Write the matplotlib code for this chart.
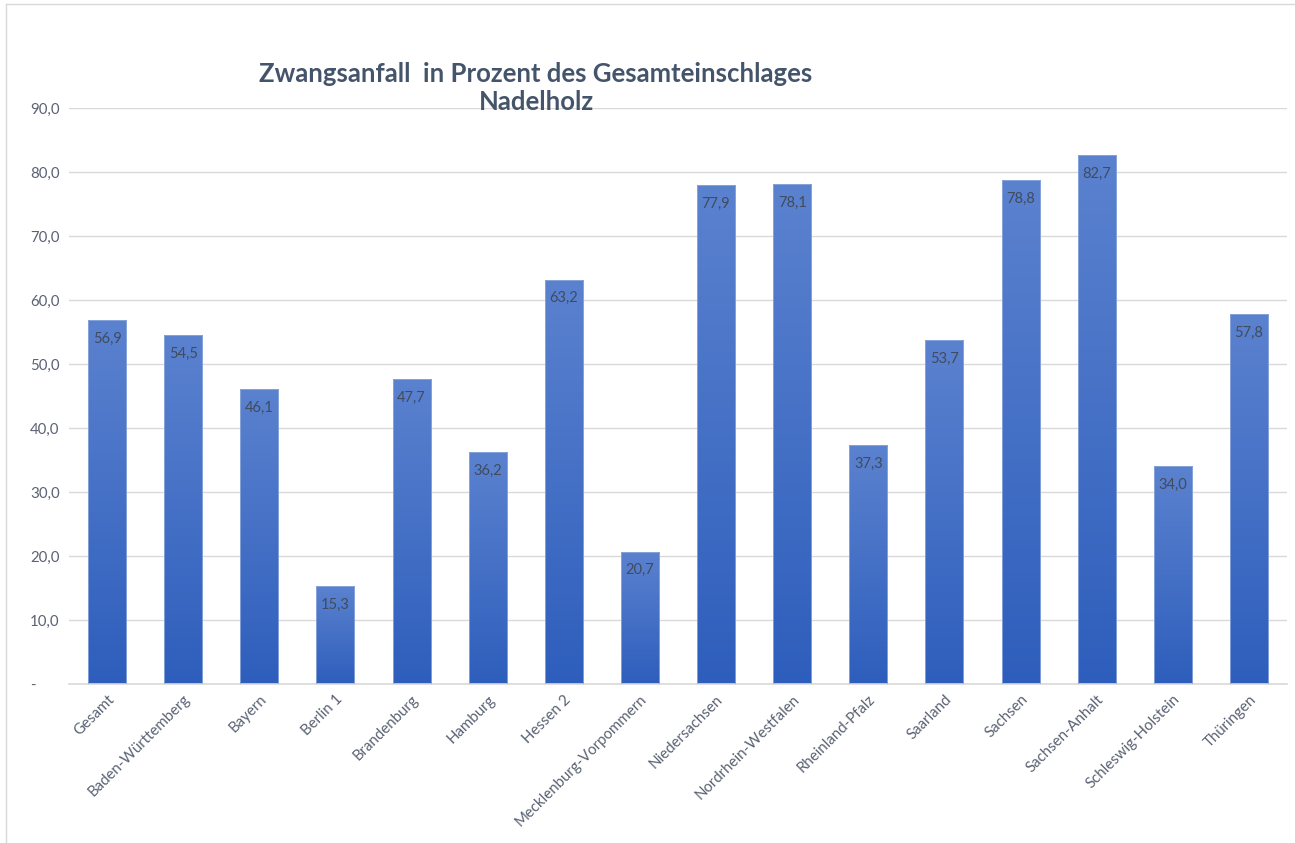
import matplotlib.pyplot as plt
import numpy as np
from matplotlib.colors import LinearSegmentedColormap
from matplotlib.lines import Line2D

# data
laender = ["Gesamt", "Baden-Württemberg", "Bayern", "Berlin 1", "Brandenburg",
           "Hamburg", "Hessen 2", "Mecklenburg-Vorpommern", "Niedersachsen",
           "Nordrhein-Westfalen", "Rheinland-Pfalz", "Saarland", "Sachsen",
           "Sachsen-Anhalt", "Schleswig-Holstein", "Thüringen"]
anteil = [56.9, 54.5, 46.1, 15.3, 47.7, 36.2, 63.2, 20.7, 77.9, 78.1,
          37.3, 53.7, 78.8, 82.7, 34.0, 57.8]
yticks = [0, 10, 20, 30, 40, 50, 60, 70, 80, 90]
ylabels = ["-"] + ["%.1f" % v for v in yticks[1:]]
ylabels = [s.replace(".", ",") for s in ylabels]

plt.rcParams['font.family'] = ['Lato', 'DejaVu Sans']

fig = plt.figure(figsize=(12.95, 8.43), dpi=100)
ax = fig.add_axes([69/1295, 1-684/843, (1287-69)/1295, (684-108)/843])

x = np.arange(len(laender))
bars = ax.bar(x, anteil, width=0.5, color="none", edgecolor="#8FAADC",
              linewidth=0.6, zorder=3)

# vertical gradient, lighter on top, darker at the bottom
cmap = LinearSegmentedColormap.from_list("grad", ["#2E5EBC", "#5B82CF"])
grad = np.linspace(0, 1, 256).reshape(-1, 1)
for b in bars:
    x0, w, h = b.get_x(), b.get_width(), b.get_height()
    im = ax.imshow(grad, cmap=cmap, origin="lower", aspect="auto",
                   extent=[x0, x0 + w, 0, h], zorder=2)
    im.set_clip_path(b)

for xi, v in zip(x, anteil):
    ax.annotate(("%.1f" % v).replace(".", ","), (xi, v), xytext=(0, -8.5),
                textcoords="offset points", ha="center", va="top",
                fontsize=10.5, color="#404B5E", zorder=4)

ax.set_xlim(-0.5, len(laender) - 0.5)
ax.set_ylim(0, 90)
ax.set_yticks(yticks)
ax.set_yticklabels(ylabels)
ax.set_xticks(x)
ax.set_xticklabels(laender, rotation=45, ha="right", rotation_mode="anchor")
ax.tick_params(axis="both", length=0, labelsize=10.8, labelcolor="#5A6273")
ax.tick_params(axis="y", pad=28)
ax.tick_params(axis="x", pad=6)
for lbl in ax.get_yticklabels():
    lbl.set_horizontalalignment("left")
ax.grid(axis="y", color="#D9D9D9", linewidth=1, zorder=0)
ax.set_axisbelow(True)
for s in ["top", "right", "left"]:
    ax.spines[s].set_visible(False)
ax.spines["bottom"].set_color("#D9D9D9")
ax.spines["bottom"].set_linewidth(1.2)

fig.text(536/1295, 1-88/843, "Zwangsanfall  in Prozent des Gesamteinschlages\nNadelholz",
         ha="center", va="center", fontsize=18.5, fontweight="bold",
         color="#44546A", linespacing=1.2, zorder=5)

# chart frame (top and left edges visible)
fig.add_artist(Line2D([6/1295, 1], [1-4/843, 1-4/843], color="#D9D9D9", linewidth=1))
fig.add_artist(Line2D([6/1295, 6/1295], [0, 1-4/843], color="#D9D9D9", linewidth=1))

fig.savefig("out.png", dpi=100)
